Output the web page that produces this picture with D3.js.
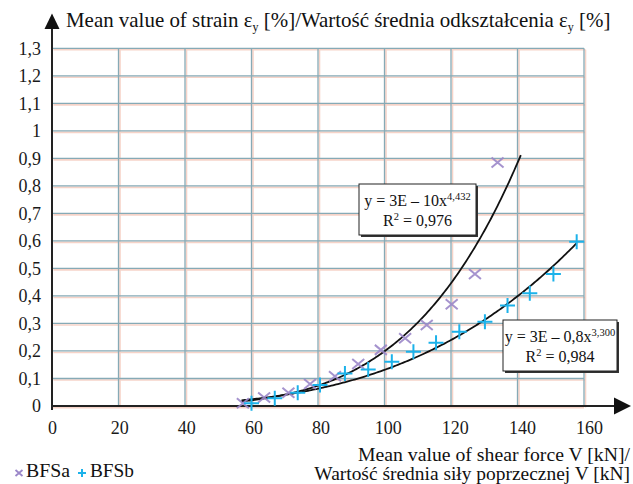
<!DOCTYPE html>
<html>
<head>
<meta charset="utf-8">
<script src="https://cdn.jsdelivr.net/npm/d3@7"></script>
<style>
  body { margin: 0; background: #fff; }
  svg, svg text { font-family: "Liberation Serif", "Times New Roman", Times, serif; }
</style>
</head>
<body>
<svg id="chart" width="633" height="484"></svg>
<script>
var bfsaX = [57.4, 63.8, 71.1, 77.6, 85.1, 92.1, 98.9, 106.2, 112.7, 120.2, 127.2, 134.0];
var bfsaY = [0.010, 0.031, 0.048, 0.080, 0.108, 0.153, 0.204, 0.246, 0.294, 0.370, 0.480, 0.885];
var bfsbX = [60.0, 67.0, 73.9, 80.6, 88.1, 95.1, 102.2, 108.7, 115.5, 122.5, 130.2, 137.0, 143.7, 150.8, 157.8];
var bfsbY = [0.010, 0.028, 0.048, 0.076, 0.118, 0.133, 0.161, 0.197, 0.230, 0.270, 0.306, 0.365, 0.410, 0.480, 0.597];

// power trendlines y = a * x^b (as printed on the chart)
var trendA = { a: 2.72e-10, b: 4.432, from: 57, to: 141, eq: ["y = 3E – 10x", "4,432"], r2: " = 0,976" };
var trendB = { a: 3.3e-8, b: 3.300, from: 57, to: 157.8, eq: ["y = 3E – 0,8x", "3,300"], r2: " = 0,984" };

var xTicks = [0, 20, 40, 60, 80, 100, 120, 140, 160];
var yTicks = [0, 0.1, 0.2, 0.3, 0.4, 0.5, 0.6, 0.7, 0.8, 0.9, 1, 1.1, 1.2, 1.3];

var colA = "#9b87c9", colB = "#1cb2ea", gridCol = "#86aab6", shadowCol = "#f6d3c8";
var serif = "'Liberation Serif', 'Times New Roman', Times, serif";

var svg = d3.select("#chart");

var x = d3.scaleLinear().domain([0, 160]).range([52, 584]);
var xLab = d3.scaleLinear().domain([0, 160]).range([52, 589]);
var y = d3.scaleLinear().domain([0, 1.3]).range([406, 48.3]);

function fmt(d) {
    return d === Math.round(d) ? String(d) : d.toFixed(1).replace(".", ",");
}

// scale a text's font so that it spans the wanted width
function fitWidth(sel, w) {
    var fs = +sel.attr("font-size");
    var len = sel.node().getComputedTextLength();
    sel.attr("font-size", fs * w / len);
    return sel;
}

// grid - pinkish offset shadow first, then teal lines
var grid = svg.append("g");
[[1.5, shadowCol, 1.6], [0, gridCol, 1.3]].forEach(function (p) {
    var g = grid.append("g").attr("transform", "translate(" + p[0] + "," + p[0] + ")");
    g.selectAll("line.v").data(xTicks.slice(1)).enter().append("line")
        .attr("x1", function (d) { return x(d); }).attr("x2", function (d) { return x(d); })
        .attr("y1", y(1.3)).attr("y2", y(0))
        .attr("stroke", p[1]).attr("stroke-width", p[2]);
    g.selectAll("line.h").data(yTicks.slice(1)).enter().append("line")
        .attr("x1", x(0)).attr("x2", x(160))
        .attr("y1", function (d) { return y(d); }).attr("y2", function (d) { return y(d); })
        .attr("stroke", p[1]).attr("stroke-width", p[2]);
});
grid.append("line").attr("x1", x(0)).attr("x2", x(160)).attr("y1", y(0) + 1.8).attr("y2", y(0) + 1.8)
    .attr("stroke", shadowCol).attr("stroke-width", 1.6);

// axes labels through d3 axes
var xAxis = svg.append("g").attr("transform", "translate(0," + y(0) + ")")
    .call(d3.axisBottom(xLab).tickValues(xTicks).tickSize(0).tickPadding(15).tickFormat(fmt));
var yAxis = svg.append("g").attr("transform", "translate(" + x(0) + ",0)")
    .call(d3.axisLeft(y).tickValues(yTicks).tickSize(0).tickPadding(11).tickFormat(fmt));
[xAxis, yAxis].forEach(function (a) {
    a.attr("font-family", serif);
    a.select(".domain").remove();
    a.selectAll("text").style("font-family", serif).attr("font-size", 18).attr("fill", "#1a1a1a");
});

// axis lines with arrows
svg.append("line").attr("x1", x(0)).attr("x2", 616).attr("y1", y(0)).attr("y2", y(0))
    .attr("stroke", "#222").attr("stroke-width", 2);
svg.append("path").attr("d", "M614,397.5 L631,406 L614,414.5 Z").attr("fill", "#111");
svg.append("line").attr("x1", x(0)).attr("x2", x(0)).attr("y1", 27).attr("y2", y(0) + 4)
    .attr("stroke", "#222").attr("stroke-width", 2);
svg.append("path").attr("d", "M44.5,29 L52,13.5 L59.5,29 Z").attr("fill", "#111");

// trendlines
var line = d3.line().x(function (d) { return x(d[0]); }).y(function (d) { return y(d[1]); });
[trendA, trendB].forEach(function (t) {
    var pts = d3.range(t.from, t.to, 0.5).concat([t.to]).map(function (v) { return [v, t.a * Math.pow(v, t.b)]; });
    svg.append("path").datum(pts).attr("d", line)
        .attr("fill", "none").attr("stroke", "#111").attr("stroke-width", 1.8);
});

// markers
var dataA = bfsaX.map(function (v, i) { return [v, bfsaY[i]]; });
var dataB = bfsbX.map(function (v, i) { return [v, bfsbY[i]]; });

svg.append("g").selectAll("path").data(dataA).enter().append("path")
    .attr("transform", function (d) { return "translate(" + x(d[0]) + "," + y(d[1]) + ")"; })
    .attr("d", "M-6,-5 L6,5 M-6,5 L6,-5")
    .attr("stroke", colA).attr("stroke-width", 2).attr("fill", "none").attr("opacity", 0.9);

svg.append("g").selectAll("path").data(dataB).enter().append("path")
    .attr("transform", function (d) { return "translate(" + x(d[0]) + "," + y(d[1]) + ")"; })
    .attr("d", "M-7.5,0 L7.5,0 M0,-7.5 L0,7.5")
    .attr("stroke", colB).attr("stroke-width", 2).attr("fill", "none");

// equation boxes
function eqBox(t, bx, by, bw, bh) {
    var g = svg.append("g");
    g.append("rect").attr("x", bx + 2).attr("y", by + 2).attr("width", bw).attr("height", bh).attr("fill", "#333");
    g.append("rect").attr("x", bx).attr("y", by).attr("width", bw).attr("height", bh)
        .attr("fill", "#fff").attr("stroke", "#222").attr("stroke-width", 1);
    var cx = bx + bw / 2;
    var t1 = g.append("text").attr("x", cx).attr("y", by + 22).attr("text-anchor", "middle")
        .attr("font-size", 16).attr("fill", "#111");
    t1.append("tspan").text(t.eq[0]);
    t1.append("tspan").attr("dy", -6.5).attr("font-size", 10.5).text(t.eq[1]);
    var t2 = g.append("text").attr("x", cx).attr("y", by + 42).attr("text-anchor", "middle")
        .attr("font-size", 16).attr("fill", "#111");
    t2.append("tspan").text("R");
    t2.append("tspan").attr("dy", -6.5).attr("font-size", 10.5).text("2");
    t2.append("tspan").attr("dy", 6.5).text(t.r2);
}
eqBox(trendA, 359, 184, 117, 51);
eqBox(trendB, 503, 320, 114, 51);

// y axis title
var yt = svg.append("text").attr("x", 66).attr("y", 27).attr("font-size", 19).attr("fill", "#111");
yt.append("tspan").text("Mean value of strain ε");
yt.append("tspan").attr("dy", 4).attr("font-size", 12).text("y");
yt.append("tspan").attr("dy", -4).text(" [%]/Wartość średnia odkształcenia ε");
yt.append("tspan").attr("dy", 4).attr("font-size", 12).text("y");
yt.append("tspan").attr("dy", -4).text(" [%]");
fitWidth(yt, 546);

// x axis title
var xt1 = svg.append("text").attr("x", 630).attr("y", 461).attr("text-anchor", "end")
    .attr("font-size", 19).attr("fill", "#111").text("Mean value of shear force V [kN]/");
fitWidth(xt1, 272);
var xt2 = svg.append("text").attr("x", 630).attr("y", 480).attr("text-anchor", "end")
    .attr("font-size", 19).attr("fill", "#111").text("Wartość średnia siły poprzecznej V [kN]");
fitWidth(xt2, 316);

// legend
var legend = svg.append("g");
legend.append("path").attr("transform", "translate(19,473)").attr("d", "M-3.5,-3 L3.5,3 M-3.5,3 L3.5,-3")
    .attr("stroke", colA).attr("stroke-width", 1.8);
fitWidth(legend.append("text").attr("x", 26).attr("y", 477).attr("font-size", 19).attr("fill", "#111").text("BFSa"), 44);
legend.append("path").attr("transform", "translate(82,473)").attr("d", "M-4,0 L4,0 M0,-4 L0,4")
    .attr("stroke", colB).attr("stroke-width", 2);
fitWidth(legend.append("text").attr("x", 90).attr("y", 477).attr("font-size", 19).attr("fill", "#111").text("BFSb"), 44);
</script>
</body>
</html>
